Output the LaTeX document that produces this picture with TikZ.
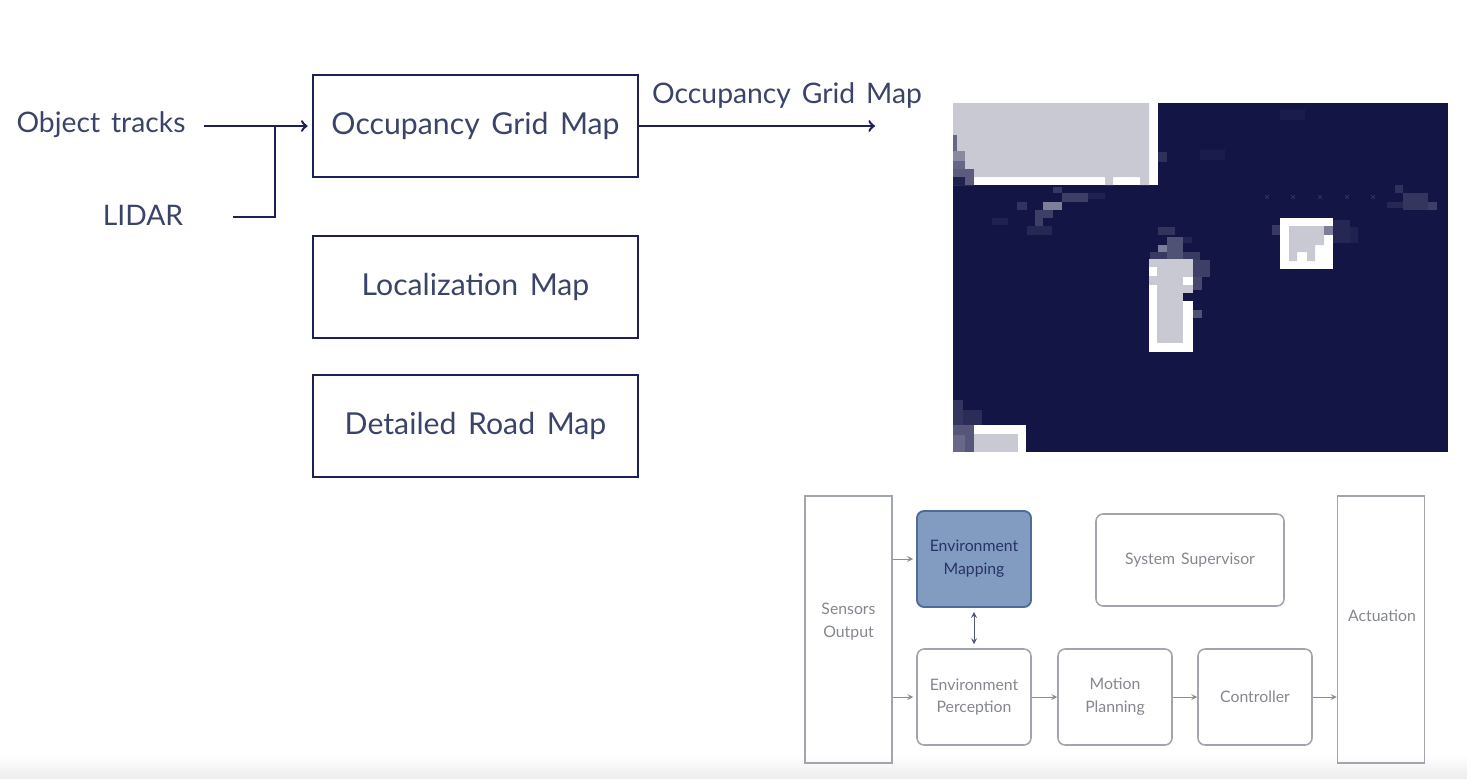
\documentclass[tikz,border=0pt]{standalone}
\usepackage{fontspec}
\setmainfont[WordSpace=1.5]{Lato}
\usepackage{xcolor}
\usetikzlibrary{arrows,calc}

\definecolor{mapnavy}{HTML}{131545}
\definecolor{mapgray}{HTML}{C8C9D3}
\definecolor{boxline}{HTML}{1C2058}
\definecolor{boxtext}{HTML}{3A4468}
\definecolor{smallline}{HTML}{A3A5AE}
\definecolor{smalltext}{HTML}{85878F}
\definecolor{mapfill}{HTML}{819CC0}
\definecolor{mapedge}{HTML}{4F6B96}

\tikzset{
	bigbox/.style={draw=boxline, line width=1.6pt, minimum width=6.5cm, minimum height=2.04cm, inner sep=0pt, text=boxtext, font=\fontsize{17.2}{21}\selectfont},
	biglabel/.style={text=boxtext, inner sep=0pt, font=\fontsize{16.1}{20}\selectfont},
	bigline/.style={draw=boxline, line width=1.4pt},
	smallbox/.style={draw=smallline, line width=0.9pt, rounded corners=4pt, minimum width=2.28cm, minimum height=1.92cm, inner sep=0pt, align=center, text=smalltext, font=\fontsize{9}{13}\selectfont},
	tallbox/.style={smallbox, rounded corners=0pt, minimum width=1.74cm, minimum height=5.34cm},
	talllabel/.style={align=center, text=smalltext, inner sep=0pt, font=\fontsize{9}{13}\selectfont},
	smallline/.style={draw=smallline!85!black, line width=0.5pt, >=stealth}
}

\begin{document}
\begin{tikzpicture}[x=0.02cm, y=-0.02cm]

	\useasboundingbox (0,0) rectangle (1467,778);

	% shade along the bottom edge
	\shade[top color=white, bottom color=black!7] (0,755) rectangle (1467,778);

	% Occupancy grid picture
	\fill[mapnavy] (953,103) rectangle (1448,452);

	% faint cells: x0/y0/x1/y1/strength
	\foreach \xa/\ya/\xb/\yb/\op in {
		1043/202/1062/210/45, 1053/187/1062/193/15, 1062/193/1088/202/18, 1035/210/1053/218/18,
		1017/202/1027/210/13, 1035/218/1043/226/18, 1027/226/1052/235/8, 992/218/1008/225/5,
		1158/152/1167/162/12, 1088/193/1105/199/5, 1200/150/1225/160/3, 1280/110/1305/120/3,
		1158/227/1175/235/13, 1167/237/1183/260/26, 1150/252/1167/260/16, 1158/245/1167/252/45,
		1183/252/1200/260/16, 1183/237/1192/243/7, 1193/260/1210/277/18, 1193/277/1202/290/22,
		1193/310/1202/318/26,
		1272/225/1280/235/16, 1333/220/1350/243/8, 1350/227/1358/243/5,
		1395/185/1403/193/12, 1403/193/1428/210/14, 1428/202/1437/210/18, 1387/202/1403/208/8,
		953/400/963/425/14, 963/410/982/425/10, 953/425/974/452/28, 953/435/965/452/36
	}{
		\fill[white!\op!mapnavy] (\xa,\ya) rectangle (\xb,\yb);
	}

	% row of small marks right of the parked car
	\foreach \xm in {1267,1293,1320,1347,1373}
		\draw[white!14!mapnavy, line width=0.4pt] (\xm-2,195) -- (\xm+2,199) (\xm-2,199) -- (\xm+2,195);

	% top left block
	\fill[white] (953,103) rectangle (1158,185);
	\fill[mapgray] (953,103) -- (1149,103) -- (1149,185) -- (1140,185) -- (1140,177) -- (1113,177) -- (1113,185) -- (1105,185) -- (1105,177) -- (974,177) -- (974,185) -- (953,185) -- cycle;
	\foreach \xa/\ya/\xb/\yb/\op in {
		953/135/957/151/35, 953/151/965/161/50, 953/161/965/169/35, 965/169/974/185/30,
		953/169/965/177/30, 953/177/965/185/5
	}{
		\fill[white!\op!mapnavy] (\xa,\ya) rectangle (\xb,\yb);
	}

	% long car
	\fill[white] (1149,259) rectangle (1193,352);
	\fill[mapgray] (1157,260) rectangle (1183,343);
	\fill[mapgray] (1149,259) rectangle (1193,267);
	\fill[mapgray] (1183,267) rectangle (1193,277);
	\fill[mapgray] (1149,276) rectangle (1157,285);
	\fill[mapgray] (1183,285) rectangle (1193,293);
	\fill[mapnavy] (1183,293) rectangle (1193,301);

	% small car
	\fill[white] (1280,218) rectangle (1333,269);
	\fill[mapgray] (1289,226) -- (1324,226) -- (1324,245) -- (1315,245) -- (1315,261) -- (1307,261) -- (1307,252) -- (1297,252) -- (1297,261) -- (1289,261) -- cycle;
	\fill[white!45!mapnavy] (1324,226) rectangle (1333,235);

	% bottom left block
	\fill[white] (974,425) rectangle (1026,452);
	\fill[mapgray] (974,434) rectangle (1018,452);

	% Map boxes
	\node[bigbox] (occgrid) at (475.5,126) {Occupancy Grid Map};
	\node[bigbox] (locmap) at (475.5,287) {Localization Map};
	\node[bigbox] (roadmap) at (475.5,426) {Detailed Road Map};

	% Inputs and output
	\node[biglabel] (tracks) at (101,125) {Object tracks};
	\node[biglabel] (lidar) at (143,215) {LIDAR};
	\node[biglabel] (occout) at (787,96) {Occupancy Grid Map};
	\coordinate (tracksend) at (204,126);
	\coordinate (lidarend) at (233,217);
	\coordinate (occend) at (875,126);

	\draw[bigline, ->, shorten >=0.08cm] (tracksend) -- (occgrid.west);
	\draw[bigline] (lidarend) -| (275,126);
	\draw[bigline, ->] (occgrid.east) -- (occend);

	% Small block diagram
	\node[tallbox] (sensors) at (848.5,629.5) {};
	\node[talllabel] (senslabel) at (848.5,622) {Sensors\\Output};
	\node[tallbox] (actuation) at (1381,629.5) {};
	\node[talllabel] (actlabel) at (1382,616) {Actuation};
	\node[smallbox, fill=mapfill, draw=mapedge, line width=1.1pt, text=boxline!75!mapedge] (envmap) at (974,559) {Environment\\Mapping};
	\node[smallbox, minimum width=3.76cm, minimum height=1.84cm] (supervisor) at (1190,560) {System Supervisor};
	\node[smallbox] (envperc) at (974,697) {Environment\\Perception};
	\node[smallbox] (motion) at (1115,697) {Motion\\Planning};
	\node[smallbox] (controller) at (1255,697) {Controller};

	\draw[smallline, ->, shorten >=0.06cm] (sensors.east |- envmap.west) -- (envmap.west);
	\draw[smallline, ->, shorten >=0.06cm] (sensors.east |- envperc.west) -- (envperc.west);
	\draw[smallline, <->, draw=boxline!60!smallline, shorten >=0.08cm, shorten <=0.08cm] (envmap.south) -- (envperc.north);
	\draw[smallline, ->] (envperc.east) -- (motion.west);
	\draw[smallline, ->] (motion.east) -- (controller.west);
	\draw[smallline, ->] (controller.east) -- (controller.east -| actuation.west);

\end{tikzpicture}
\end{document}
